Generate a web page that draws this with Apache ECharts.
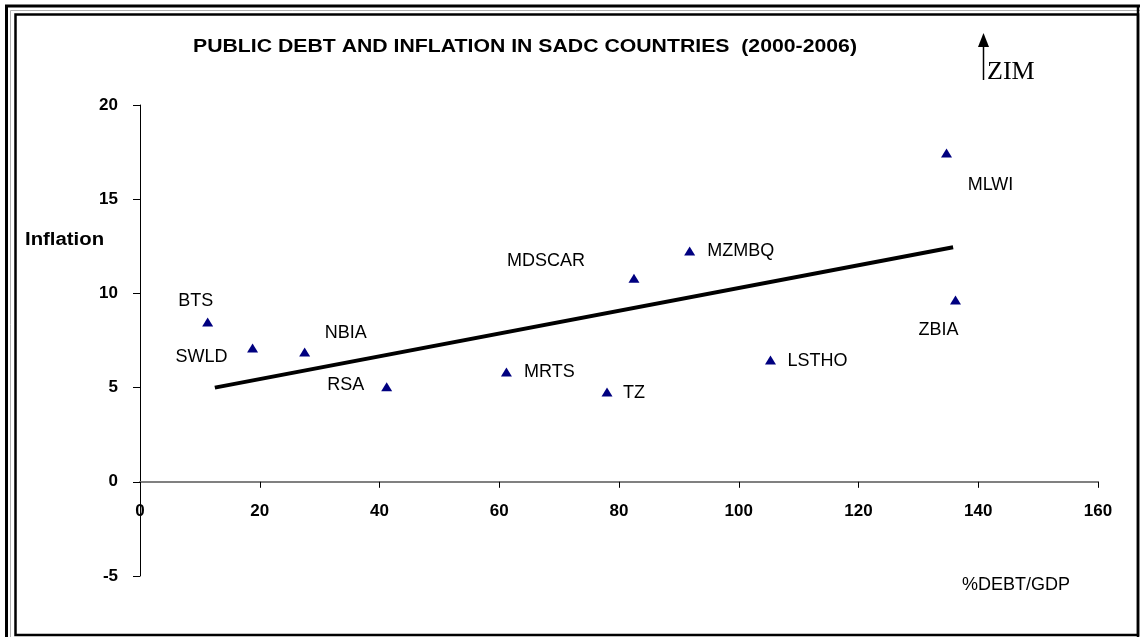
<!DOCTYPE html>
<html>
<head>
<meta charset="utf-8">
<script src="https://cdn.jsdelivr.net/npm/echarts@6/dist/echarts.min.js"></script>
<style>html,body{margin:0;padding:0;background:#fff}#c{width:1140px;height:637px}</style>
</head>
<body>
<div id="c"></div>
<script>
// Data
const countries = ['BTS','SWLD','NBIA','RSA','MRTS','TZ','MDSCAR','MZMBQ','LSTHO','MLWI','ZBIA'];
const debtGdp   = [11.3, 18.8, 27.5, 41.2, 61.2, 78.0, 82.5, 91.8, 105.3, 134.7, 136.2];
const inflation = [8.48, 7.10, 6.89, 5.05, 5.83, 4.77, 10.81, 12.25, 6.47, 17.45, 9.65];
const trendX = [12.5, 135.8];
const trendY = [5.0, 12.45];
const xTicks = [0, 20, 40, 60, 80, 100, 120, 140, 160];
const yTicks = [-5, 0, 5, 10, 15, 20];

// label placement (style, relative to each marker)
const labelOffsets = [[-12,-21],[-51,9],[41,-19],[-41,-2],[43,0],[27,1],[-88,-17],[51,0],[47,1],[44,32],[-17,30]];

const pts = countries.map((n, i) => ({
  name: n,
  value: [debtGdp[i], inflation[i]],
  label: { offset: labelOffsets[i] }
}));
const trend = trendX.map((x, i) => [x, trendY[i]]);

const chart = echarts.init(document.getElementById('c'), null, {renderer: 'canvas'});
const sans = 'Liberation Sans, Arial, sans-serif';
const gridTop = 105, gridBottom = 61, chartH = 637;
// pixel shift that puts the x axis on y = 0
const plotH = chartH - gridTop - gridBottom;
const zeroShift = -plotH * (0 - yTicks[0]) / (yTicks[yTicks.length-1] - yTicks[0]);

chart.setOption({
  animation: false,
  backgroundColor: '#fff',
  grid: { left: 140, right: 42, top: gridTop, bottom: gridBottom, containLabel: false },
  xAxis: {
    type: 'value', min: xTicks[0], max: xTicks[xTicks.length-1], interval: 20,
    offset: zeroShift,
    axisLine: { onZero: false, lineStyle: { color: '#808080', width: 2 } },
    axisTick: { show: true, length: 6, lineStyle: { color: '#000', width: 1 } },
    axisLabel: { margin: 21, fontFamily: sans, fontWeight: 'bold', fontSize: 17, color: '#000' },
    splitLine: { show: false }
  },
  yAxis: {
    type: 'value', min: yTicks[0], max: yTicks[yTicks.length-1], interval: 5,
    axisLine: { show: true, onZero: false, lineStyle: { color: '#000', width: 1 } },
    axisTick: { show: true, length: 7, lineStyle: { color: '#000', width: 1 } },
    axisLabel: { margin: 22, fontFamily: sans, fontWeight: 'bold', fontSize: 17, color: '#000' },
    splitLine: { show: false }
  },
  series: [
    {
      type: 'line', data: trend, symbol: 'none', z: 2,
      lineStyle: { color: '#000', width: 4 }
    },
    {
      type: 'scatter', data: pts, symbol: 'triangle', symbolSize: [11, 9], z: 3,
      itemStyle: { color: '#000080', opacity: 1 },
      label: {
        show: true, position: 'inside', formatter: '{b}',
        color: '#000', fontFamily: sans, fontSize: 18
      }
    }
  ],
  graphic: [
    { type: 'polyline', shape: { points: [[6.5,640],[6.5,6],[1140,6]] }, style: { stroke: '#000', lineWidth: 3, fill: null } },
    { type: 'polyline', shape: { points: [[10.5,640],[10.5,10.5],[1140,10.5]] }, style: { stroke: '#b0b0b0', lineWidth: 1, fill: null } },
    { type: 'rect', shape: { x: 15.5, y: 14.5, width: 1122.5, height: 620.5 }, style: { stroke: '#000', lineWidth: 2.5, fill: null } },
    { type: 'line', shape: { x1: 1138, y1: 5, x2: 1138, y2: 637 }, style: { stroke: '#000', lineWidth: 2.5 } },
    { type: 'text', x: 525, y: 47, scaleX: 1.18,
      style: { text: 'PUBLIC DEBT AND INFLATION IN SADC COUNTRIES  (2000-2006)', fontFamily: sans, fontWeight: 'bold', fontSize: 18, fill: '#000', textAlign: 'center', textVerticalAlign: 'middle' } },
    { type: 'text', x: 25, y: 240, scaleX: 1.13,
      style: { text: 'Inflation', fontFamily: sans, fontWeight: 'bold', fontSize: 18, fill: '#000', textVerticalAlign: 'middle' } },
    { type: 'text', x: 962, y: 585, style: { text: '%DEBT/GDP', fontFamily: sans, fontSize: 18, fill: '#000', textVerticalAlign: 'middle' } },
    { type: 'line', shape: { x1: 983.5, y1: 44, x2: 983.5, y2: 80 }, style: { stroke: '#000', lineWidth: 1.5 } },
    { type: 'polygon', shape: { points: [[983.5,33],[978,47],[989,47]] }, style: { fill: '#000' } },
    { type: 'text', x: 987, y: 72, style: { text: 'ZIM', fontFamily: 'Liberation Serif, Times New Roman, serif', fontSize: 26, fill: '#000', textVerticalAlign: 'middle' } }
  ]
});
</script>
</body>
</html>
